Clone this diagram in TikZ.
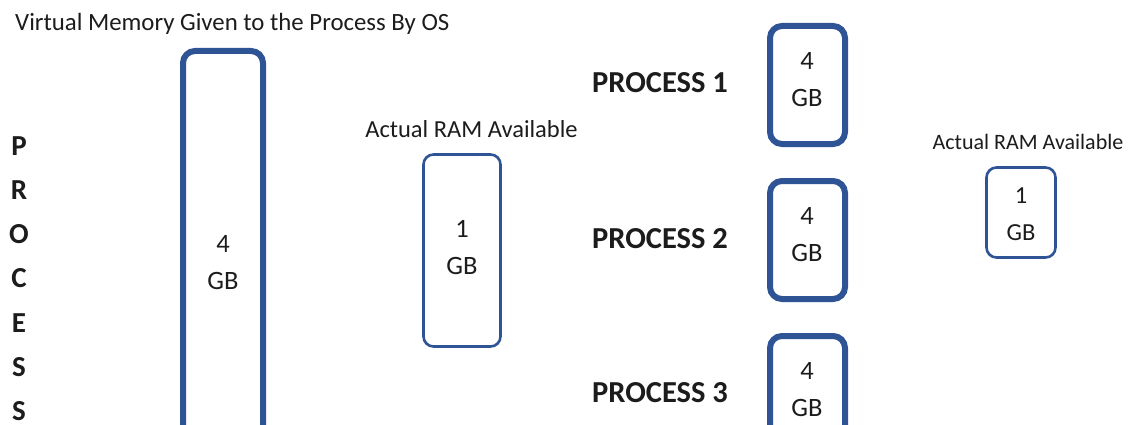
\documentclass[tikz,border=0pt]{standalone}
\usepackage{fontspec}
\setmainfont{Carlito}
\definecolor{boxblue}{RGB}{47,84,150}
\definecolor{ink}{RGB}{28,28,28}
\begin{document}
\begin{tikzpicture}[x=1pt,y=-1pt,
  membox/.style={draw=boxblue, line width=6pt, rounded corners=12pt, inner sep=0pt},
  rambox/.style={draw=boxblue, line width=2.6pt, rounded corners=10pt, inner sep=0pt},
  sizetext/.style={text=ink, font=\fontsize{26.5}{37}\selectfont, align=center, inner sep=0pt},
  caption/.style={text=ink, inner sep=0pt},
  proclabel/.style={text=ink, inner sep=0pt, anchor=base west, font=\fontsize{30.5}{36}\selectfont\bfseries},
  vletter/.style={text=ink, inner sep=0pt, anchor=base, font=\fontsize{29}{36}\selectfont\bfseries}
]
\useasboundingbox (0,0) rectangle (1131,425);
\clip (0,0) rectangle (1131,425);
\fill[white] (0,0) rectangle (1131,425);

% left half: one process and the physical memory
\node[caption, anchor=base west, font=\fontsize{24.8}{30}\selectfont] (title) at (15,31)
  {Virtual Memory Given to the Process By OS};
\foreach \l [count=\i] in {P,R,O,C,E,S,S}
  \node[vletter] (v\i) at (19,{155+44.3*(\i-1)}) {\l};

\node[membox, minimum width=80pt, minimum height=400pt] (vm) at (223,251) {};
\node[sizetext] (vmtext) at (223,263) {4\\GB};

\node[caption, anchor=base, font=\fontsize{24.5}{30}\selectfont] (ramcap1) at (471.5,137)
  {Actual RAM Available};
\node[rambox, minimum width=77pt, minimum height=192pt] (ram1) at (462,250.5) {};
\node[sizetext] (ram1text) at (462,247.5) {1\\GB};

% right half: three processes sharing the physical memory
\node[proclabel] (pl1) at (592,93) {PROCESS 1};
\node[proclabel] (pl2) at (592,248) {PROCESS 2};
\node[proclabel] (pl3) at (592,402) {PROCESS 3};

\node[membox, minimum width=75pt, minimum height=118pt] (p1) at (807.5,85) {};
\node[membox, minimum width=75pt, minimum height=118pt] (p2) at (807.5,240) {};
\node[membox, minimum width=75pt, minimum height=118pt] (p3) at (807.5,395) {};
\node[sizetext] (p1text) at (807,80) {4\\GB};
\node[sizetext] (p2text) at (807,235) {4\\GB};
\node[sizetext] (p3text) at (807,390) {4\\GB};

\node[caption, anchor=base, font=\fontsize{22}{27}\selectfont] (ramcap2) at (1028,149)
  {Actual RAM Available};
\node[rambox, minimum width=69pt, minimum height=90pt] (ram2) at (1021,212.5) {};
\node[sizetext, font=\fontsize{24.5}{37}\selectfont] (ram2text) at (1021,214) {1\\GB};
\end{tikzpicture}
\end{document}
